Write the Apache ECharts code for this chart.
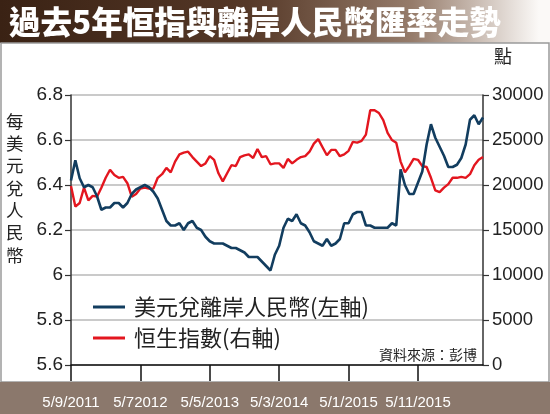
<!DOCTYPE html>
<html>
<head>
<meta charset="utf-8">
<script src="https://cdn.jsdelivr.net/npm/echarts@6/dist/echarts.min.js"></script>
<style>
html,body{margin:0;padding:0;background:#fff;}
#chart{width:550px;height:414px;}
</style>
</head>
<body>
<div id="chart"></div>
<script>
// ---- data ----
const tickLabels = ['5/9/2011', '5/72012', '5/5/2013', '5/3/2014', '5/1/2015', '5/11/2015'];
const pointsPerTick = 16;
const usdCnh = [
  6.42, 6.51, 6.43, 6.39, 6.40, 6.39, 6.35, 6.29, 6.30, 6.30,
  6.32, 6.32, 6.30, 6.32, 6.36, 6.38, 6.39, 6.40, 6.39, 6.37,
  6.34, 6.29, 6.24, 6.22, 6.22, 6.23, 6.20, 6.23, 6.24, 6.21,
  6.20, 6.17, 6.15, 6.14, 6.14, 6.14, 6.13, 6.12, 6.12, 6.11,
  6.10, 6.08, 6.08, 6.08, 6.06, 6.04, 6.02, 6.09, 6.13, 6.21,
  6.25, 6.24, 6.27, 6.23, 6.22, 6.19, 6.15, 6.14, 6.13, 6.16,
  6.13, 6.14, 6.16, 6.23, 6.23, 6.27, 6.28, 6.28, 6.22, 6.22,
  6.21, 6.21, 6.21, 6.21, 6.23, 6.22, 6.47, 6.40, 6.36, 6.36,
  6.41, 6.46, 6.58, 6.67, 6.61, 6.57, 6.53, 6.48, 6.48, 6.49,
  6.52, 6.58, 6.69, 6.71, 6.67, 6.70
];
const hsi = [
  19900, 17600, 18000, 19700, 18300, 18800, 18700, 19700, 20800, 21700,
  21100, 20800, 20900, 20200, 18700, 19000, 19600, 19700, 19600, 19600,
  20800, 21200, 21900, 21400, 22600, 23400, 23600, 23700, 23100, 22600,
  22100, 22400, 23200, 22800, 21300, 20400, 21300, 22200, 22100, 23100,
  23300, 23400, 23000, 24000, 23100, 23200, 22300, 22400, 22400, 21900,
  22900, 22400, 22800, 23100, 23200, 23700, 24600, 25100, 24200, 23300,
  23900, 23900, 23200, 23400, 23800, 24800, 24700, 24900, 25600, 28300,
  28300, 28000, 27200, 25800, 25000, 24700, 22600, 21400, 22100, 22900,
  22800, 22100, 22000, 20800, 19400, 19200, 19700, 20100, 20800, 20800,
  20900, 20800, 21200, 22200, 22800, 23100
];
const seriesNames = ['美元兌離岸人民幣(左軸)', '恒生指數(右軸)'];
const leftTicks = { min: 5.6, max: 6.8, interval: 0.2 };
const rightTicks = { min: 0, max: 30000, interval: 5000 };

const categories = usdCnh.map((_, i) => (i % pointsPerTick === 0 ? (tickLabels[i / pointsPerTick] || '') : ''));
const tickFilter = (i) => i % pointsPerTick === 0;

const chart = echarts.init(document.getElementById('chart'), null, { renderer: 'canvas' });
const numFont = 'Liberation Sans, Arial, sans-serif';
const cjkFont = '"Noto Sans CJK TC", "Noto Sans CJK SC", sans-serif';

chart.setOption({
  animation: false,
  backgroundColor: '#ffffff',
  grid: { left: 71, right: 67, top: 95, bottom: 49, containLabel: false },
  graphic: [
    { type: 'rect', z: 0, shape: { x: 0, y: 0, width: 550, height: 43 },
      style: { fill: new echarts.graphic.LinearGradient(0, 0, 1, 0, [
        { offset: 0, color: '#3a2214' }, { offset: 0.45, color: '#553827' },
        { offset: 0.75, color: '#967c6b' }, { offset: 0.98, color: '#fbf9f7' }]) } },
    { type: 'text', z: 10, left: 9, top: 6,
      style: { text: '過去5年恒指與離岸人民幣匯率走勢', fill: '#ffffff', font: '900 31.5px ' + cjkFont } },
    { type: 'rect', z: 0, shape: { x: 1, y: 43, width: 548, height: 339 },
      style: { fill: 'none', stroke: '#9a9a9a', lineWidth: 1.5 } },
    { type: 'rect', z: 0, shape: { x: 0, y: 382, width: 550, height: 32 },
      style: { fill: '#8b786c' } },
    { type: 'text', z: 10, left: 494, top: 47,
      style: { text: '點', fill: '#222', font: '18px ' + cjkFont } },
    { type: 'text', z: 10, left: 6, top: 110,
      style: { text: '每\n美\n元\n兌\n人\n民\n幣', fill: '#222', font: '17.5px ' + cjkFont, lineHeight: 22.3 } },
    { type: 'text', z: 10, right: 73, top: 348,
      style: { text: '資料來源：彭博', fill: '#222', font: '14px ' + cjkFont, backgroundColor: '#fff' } }
  ],
  legend: {
    orient: 'vertical', left: 88, top: 291, itemWidth: 32, itemHeight: 3, itemGap: 9,
    icon: 'rect',
    textStyle: { fontSize: 22, fontFamily: cjkFont, color: '#222', padding: [0, 0, 0, 4] },
    data: seriesNames
  },
  xAxis: {
    type: 'category', data: categories, boundaryGap: false,
    axisLine: { lineStyle: { color: '#111', width: 1.5 } },
    axisTick: { length: 16, interval: tickFilter, lineStyle: { color: '#111', width: 1.5 } },
    axisLabel: { interval: tickFilter, margin: 30, color: '#ffffff', fontSize: 15, fontFamily: numFont },
    splitLine: { show: false }
  },
  yAxis: [
    { type: 'value', min: leftTicks.min, max: leftTicks.max, interval: leftTicks.interval,
      axisLine: { show: true, lineStyle: { color: '#333', width: 1.5 } },
      axisTick: { show: true, length: 6, lineStyle: { color: '#333', width: 1.2 } },
      axisLabel: { margin: 8, color: '#222', fontSize: 19, fontFamily: numFont },
      splitLine: { show: true, lineStyle: { color: '#b8b8b8', width: 1.5 } } },
    { type: 'value', min: rightTicks.min, max: rightTicks.max, interval: rightTicks.interval, position: 'right',
      axisLine: { show: true, lineStyle: { color: '#333', width: 1.5 } },
      axisTick: { show: true, length: 6, lineStyle: { color: '#333', width: 1.2 } },
      axisLabel: { margin: 9, color: '#222', fontSize: 18.5, fontFamily: numFont, formatter: (v) => String(v) },
      splitLine: { show: false } }
  ],
  series: [
    { name: seriesNames[0], type: 'line', yAxisIndex: 0, data: usdCnh, symbol: 'none',
      lineStyle: { color: '#123d5f', width: 2.6 }, itemStyle: { color: '#123d5f' }, z: 3 },
    { name: seriesNames[1], type: 'line', yAxisIndex: 1, data: hsi, symbol: 'none',
      lineStyle: { color: '#e3161f', width: 2.4 }, itemStyle: { color: '#e3161f' }, z: 2 }
  ]
});
</script>
</body>
</html>
